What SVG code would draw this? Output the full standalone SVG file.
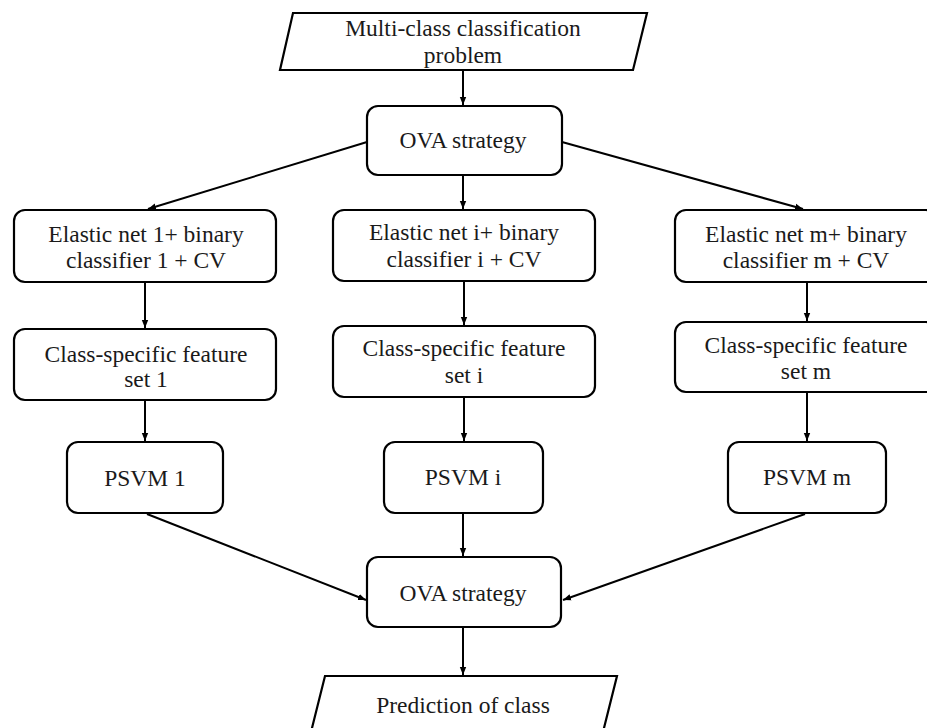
<svg xmlns="http://www.w3.org/2000/svg" width="927" height="728" viewBox="0 0 927 728">
<defs>
<marker id="ah" markerUnits="userSpaceOnUse" markerWidth="8" markerHeight="8" viewBox="0 0 8 8" refX="8" refY="4" orient="auto">
<path d="M0,0.8 L8,4 L0,7.2 Z" fill="#000"/>
</marker>
<style>
.box{fill:#fff;stroke:#000;stroke-width:2.2}
.t{font-family:"Liberation Serif","Times New Roman",serif;font-size:23.5px;fill:#1a1a1a;text-anchor:middle}
.c{stroke:#000;stroke-width:2;fill:none;marker-end:url(#ah)}
</style>
</defs>
<rect width="927" height="728" fill="#fff"/>
<g id="connectors">
<line class="c" x1="463" y1="71" x2="463" y2="105"/>
<line class="c" x1="367" y1="142" x2="148" y2="209"/>
<line class="c" x1="463" y1="176" x2="463" y2="209"/>
<line class="c" x1="562" y1="142" x2="803" y2="209"/>
<line class="c" x1="145" y1="283" x2="145" y2="328"/>
<line class="c" x1="464" y1="282" x2="464" y2="325"/>
<line class="c" x1="807" y1="283" x2="807" y2="321"/>
<line class="c" x1="145" y1="401" x2="145" y2="441"/>
<line class="c" x1="464" y1="398" x2="464" y2="441"/>
<line class="c" x1="807" y1="393" x2="807" y2="441"/>
<line class="c" x1="147" y1="514" x2="366" y2="600"/>
<line class="c" x1="463" y1="514" x2="463" y2="556"/>
<line class="c" x1="805" y1="514" x2="563" y2="600"/>
<line class="c" x1="463" y1="628" x2="463" y2="675"/>
</g>
<g id="input">
<polygon class="box" points="293,13 647,13 633,70 280,70"/>
<text class="t" x="463" y="36">Multi-class classification</text>
<text class="t" x="463" y="63">problem</text>
</g>
<g id="ova1">
<rect class="box" x="367" y="106" width="195" height="69" rx="11"/>
<text class="t" x="463" y="148">OVA strategy</text>
</g>
<g id="elastic1">
<rect class="box" x="14" y="210" width="262" height="72" rx="11"/>
<text class="t" x="146" y="242">Elastic net 1+ binary</text>
<text class="t" x="146" y="268">classifier 1 + CV</text>
</g>
<g id="elastici">
<rect class="box" x="333" y="210" width="262" height="71" rx="11"/>
<text class="t" x="464" y="240">Elastic net i+ binary</text>
<text class="t" x="464" y="267">classifier i + CV</text>
</g>
<g id="elasticm">
<rect class="box" x="675" y="210" width="262" height="72" rx="11"/>
<text class="t" x="806" y="242">Elastic net m+ binary</text>
<text class="t" x="806" y="268">classifier m + CV</text>
</g>
<g id="feat1">
<rect class="box" x="14" y="329" width="262" height="71" rx="11"/>
<text class="t" x="146" y="362">Class-specific feature</text>
<text class="t" x="146" y="387">set 1</text>
</g>
<g id="feati">
<rect class="box" x="333" y="326" width="262" height="71" rx="11"/>
<text class="t" x="464" y="356">Class-specific feature</text>
<text class="t" x="464" y="383">set i</text>
</g>
<g id="featm">
<rect class="box" x="675" y="322" width="262" height="70" rx="11"/>
<text class="t" x="806" y="353">Class-specific feature</text>
<text class="t" x="806" y="379">set m</text>
</g>
<g id="psvm1">
<rect class="box" x="67" y="442" width="156" height="71" rx="11"/>
<text class="t" x="145" y="486">PSVM 1</text>
</g>
<g id="psvmi">
<rect class="box" x="384" y="442" width="159" height="71" rx="11"/>
<text class="t" x="463" y="485">PSVM i</text>
</g>
<g id="psvmm">
<rect class="box" x="728" y="442" width="158" height="71" rx="11"/>
<text class="t" x="807" y="485">PSVM m</text>
</g>
<g id="ova2">
<rect class="box" x="367" y="557" width="194" height="70" rx="11"/>
<text class="t" x="463" y="601">OVA strategy</text>
</g>
<g id="output">
<polygon class="box" points="325,676 617,676 601,740 309,740"/>
<text class="t" x="463" y="713">Prediction of class</text>
</g>
</svg>
